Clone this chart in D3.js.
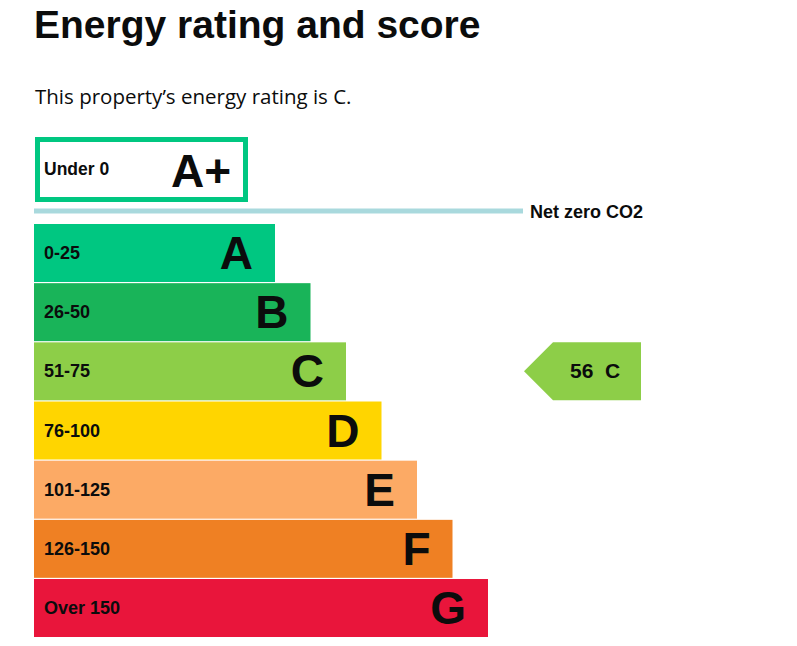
<!DOCTYPE html>
<html>
<head>
<meta charset="utf-8">
<script src="https://cdn.jsdelivr.net/npm/d3@7"></script>
<style>
  body { margin: 0; background: #fff; }
  svg { display: block; }
</style>
</head>
<body>
<div class="epc-chart"></div>
<script>
const WIDTH = 797,
    HEIGHT = 646;

// chart data
const bands = ["A", "B", "C", "D", "E", "F", "G"];
const ranges = ["0-25", "26-50", "51-75", "76-100", "101-125", "126-150", "Over 150"];
const colors = ["#00c781", "#19b459", "#8dce48", "#ffd500", "#fcaa65", "#ef8023", "#e9153b"];
const topBand = { letter: "A+", range: "Under 0" };
const currentScore = 56;
const currentRating = "C";

const svg = d3.select(".epc-chart")
    .append("svg")
    .attr("width", WIDTH)
    .attr("height", HEIGHT);

// title + intro text
svg.append("text")
    .attr("x", 34)
    .attr("y", 38)
    .style("font-family", "'Liberation Sans', Arial, sans-serif")
    .style("font-weight", "bold")
    .style("font-size", "39px")
    .style("fill", "#0b0c0c")
    .text("Energy rating and score");

svg.append("text")
    .attr("x", 35)
    .attr("y", 104)
    .style("font-family", "'Open Sans', sans-serif")
    .style("font-size", "20.5px")
    .style("fill", "#0b0c0c")
    .text("This property\u2019s energy rating is " + currentRating + ".");

// scales
const y = d3.scaleBand()
    .domain(bands)
    .range([224, 637])
    .paddingInner(0.02);

const w = d3.scaleLinear()
    .domain([0, bands.length - 1])
    .range([241, 454]);

const label = "font-family: 'Liberation Sans', Arial, sans-serif; font-weight: bold; fill: #0b0c0c;";

// A+ box
svg.append("rect")
    .attr("x", 37.5)
    .attr("y", 139.5)
    .attr("width", 208)
    .attr("height", 60)
    .attr("fill", "#fff")
    .attr("stroke", colors[0])
    .attr("stroke-width", 5);

svg.append("text")
    .attr("x", 44)
    .attr("y", 175)
    .attr("style", label + "font-size: 17.5px;")
    .text(topBand.range);

svg.append("text")
    .attr("x", 231)
    .attr("y", 187)
    .attr("text-anchor", "end")
    .attr("style", label + "font-size: 46px;")
    .text(topBand.letter);

// net zero line
svg.append("line")
    .attr("x1", 34)
    .attr("x2", 523)
    .attr("y1", 211)
    .attr("y2", 211)
    .attr("stroke", "#a9d9dd")
    .attr("stroke-width", 5);

svg.append("text")
    .attr("x", 530)
    .attr("y", 218)
    .attr("style", label + "font-size: 18px;")
    .text("Net zero CO2");

// bands
const rows = svg.selectAll(".band")
    .data(bands)
    .join("g")
    .attr("class", "band");

rows.append("rect")
    .attr("x", 34)
    .attr("y", d => y(d))
    .attr("width", (d, i) => w(i))
    .attr("height", y.bandwidth())
    .attr("fill", (d, i) => colors[i]);

rows.append("text")
    .attr("x", 44)
    .attr("y", d => y(d) + y.bandwidth() / 2 + 6)
    .attr("style", label + "font-size: 18px;")
    .text((d, i) => ranges[i]);

rows.append("text")
    .attr("x", (d, i) => 34 + w(i) - 22)
    .attr("y", d => y(d) + y.bandwidth() / 2 + 16)
    .attr("text-anchor", "end")
    .attr("style", label + "font-size: 46px;")
    .text(d => d);

// current rating arrow
const idx = bands.indexOf(currentRating);
const ay = y(currentRating), ah = y.bandwidth();
const ax = 524, aw = 117, tip = 29;

svg.append("polygon")
    .attr("points", [
        [ax, ay + ah / 2],
        [ax + tip, ay],
        [ax + aw, ay],
        [ax + aw, ay + ah],
        [ax + tip, ay + ah]
    ].map(p => p.join(",")).join(" "))
    .attr("fill", colors[idx]);

svg.append("text")
    .attr("x", 570)
    .attr("y", ay + ah / 2 + 7)
    .attr("style", label + "font-size: 21px; white-space: pre;")
    .text(currentScore + "  " + currentRating);
</script>
</body>
</html>
